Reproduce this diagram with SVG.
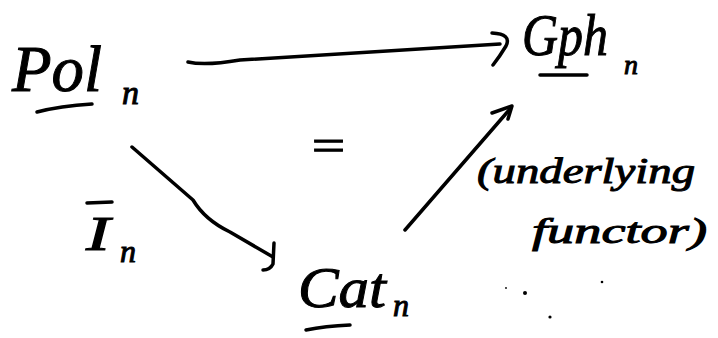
<svg xmlns="http://www.w3.org/2000/svg" width="718" height="338" viewBox="0 0 718 338">
<style>
.t{font-family:"Liberation Serif","DejaVu Serif",serif;font-style:italic;fill:#000;stroke:#000;stroke-width:1}
.s{fill:none;stroke:#000;stroke-width:3.5;stroke-linecap:round;stroke-linejoin:round}
</style>
<rect width="718" height="338" fill="#fff"/>
<g id="pol">
<text class="t" x="12" y="91" font-size="66" textLength="90" lengthAdjust="spacingAndGlyphs">Pol</text>
<path class="s" d="M37 112 Q60 106 92 104"/>
<text class="t" x="122" y="104" font-size="34" stroke-width="1.5">n</text>
</g>
<g id="gph">
<text class="t" x="522" y="55" font-size="60" textLength="86" lengthAdjust="spacingAndGlyphs">Gph</text>
<path class="s" d="M540 75 L587 75"/>
<text class="t" x="624" y="74" font-size="28" stroke-width="1.5">n</text>
</g>
<g id="cat">
<text class="t" x="298" y="307" font-size="58" textLength="88" lengthAdjust="spacingAndGlyphs">Cat</text>
<path class="s" d="M306 330 Q325 326 350 325"/>
<text class="t" x="393" y="316" font-size="32" stroke-width="1.5">n</text>
</g>
<g id="eq">
<text class="t" x="308" y="160" font-size="44" textLength="40" lengthAdjust="spacingAndGlyphs">=</text>
</g>
<g id="label-in">
<path class="s" d="M87 203 L112 202"/>
<text class="t" x="86" y="250" font-size="48" textLength="24" lengthAdjust="spacingAndGlyphs">I</text>
<text class="t" x="120" y="262" font-size="32" stroke-width="1.5">n</text>
</g>
<g id="label-underlying">
<text class="t" x="477" y="183" font-size="36" textLength="218" lengthAdjust="spacingAndGlyphs">(underlying</text>
<text class="t" x="532" y="243" font-size="36" textLength="175" lengthAdjust="spacingAndGlyphs">functor)</text>
</g>
<g id="connectors">
<path class="s" d="M188 62 Q205 66 240 60 L500 44"/>
<path class="s" d="M492 33 Q512 34 506 46 Q500 56 493 65"/>
<path class="s" d="M132 147 Q170 180 193 200 Q205 220 230 232 L273 257"/>
<path class="s" d="M274 243 L273 264 Q270 270 263 270"/>
<path class="s" d="M405 230 L510 109"/>
<path class="s" d="M492 113 L512 106 L508 119"/>
</g>
<g id="specks" fill="#000">
<circle cx="525" cy="293" r="2"/>
<circle cx="550" cy="317" r="1.6"/>
<circle cx="602" cy="282" r="1.3"/>
<circle cx="506" cy="288" r="0.9"/>
</g>
</svg>
